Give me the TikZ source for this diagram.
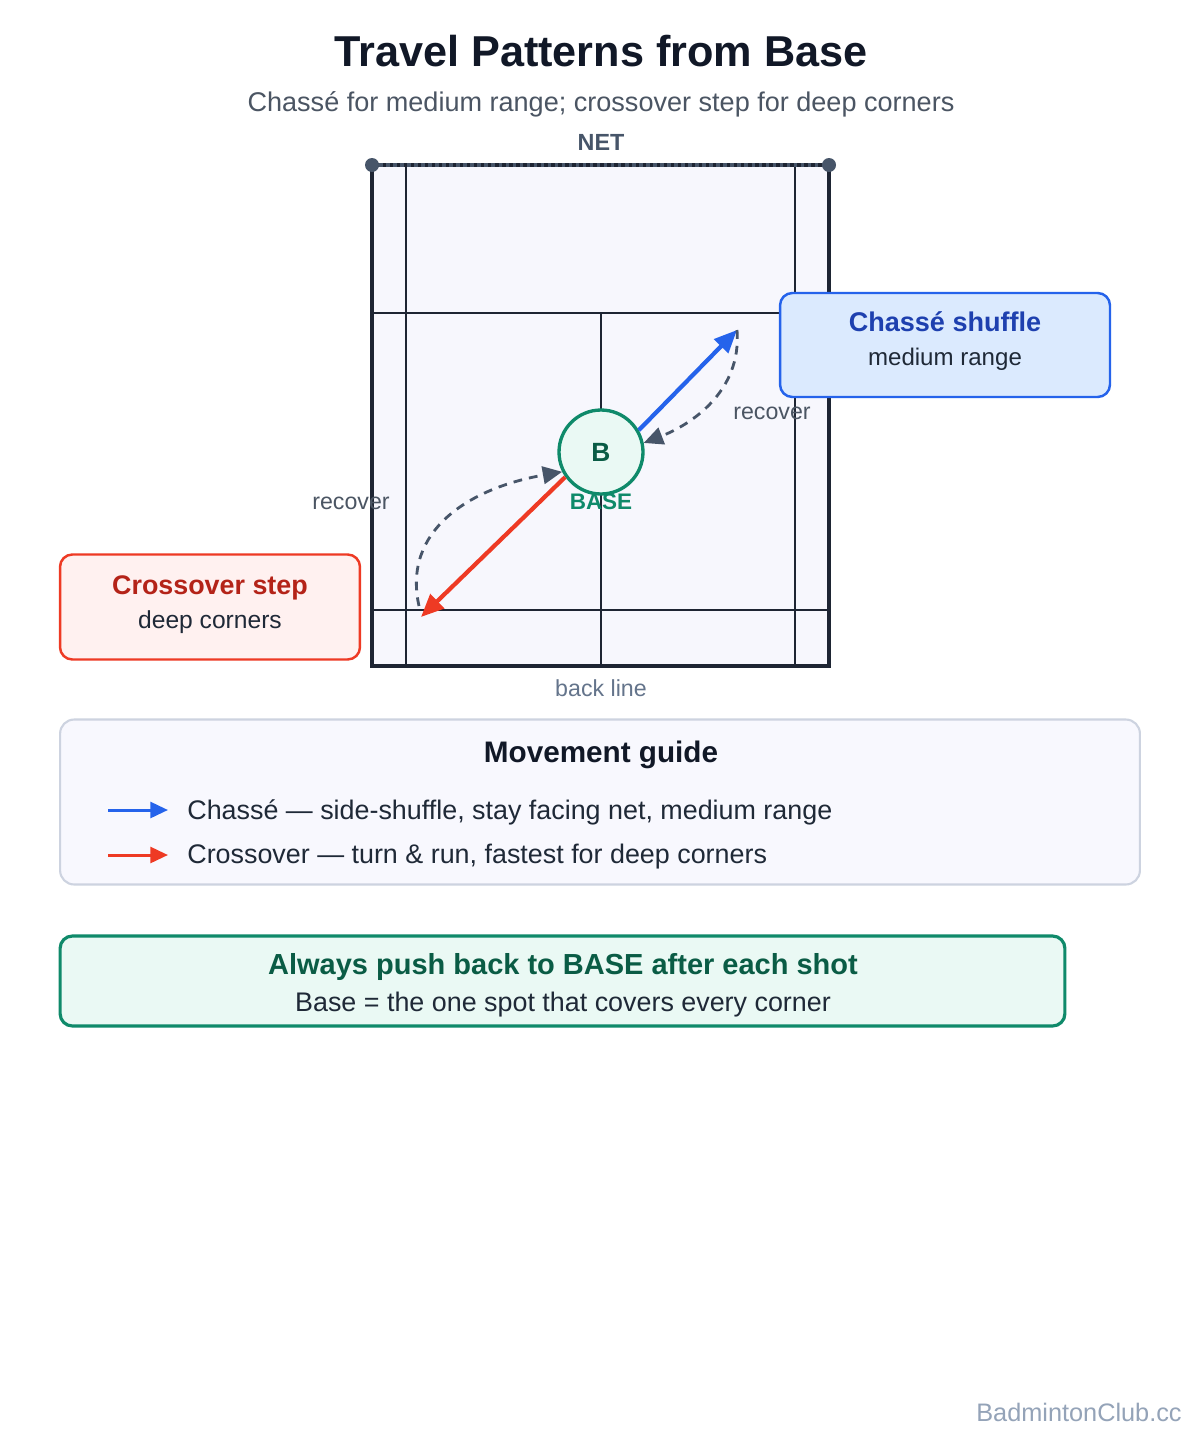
\documentclass[tikz,border=0pt]{standalone}
\usepackage{fontspec}
\setmainfont{Liberation Sans}
\usepackage{xcolor}
\usetikzlibrary{arrows.meta}

\definecolor{ink}{HTML}{111827}
\definecolor{body}{HTML}{1F2937}
\definecolor{subgrey}{HTML}{4B5563}
\definecolor{netgrey}{HTML}{475569}
\definecolor{softgrey}{HTML}{64748B}
\definecolor{footgrey}{HTML}{94A3B8}
\definecolor{courtline}{HTML}{1E2533}
\definecolor{courtfill}{HTML}{F7F7FD}
\definecolor{basegreen}{HTML}{0F8A6A}
\definecolor{deepgreen}{HTML}{0A5C45}
\definecolor{greenfill}{HTML}{EAF9F4}
\definecolor{chasseblue}{HTML}{2563EB}
\definecolor{deepblue}{HTML}{1E40AF}
\definecolor{bluefill}{HTML}{DBEAFE}
\definecolor{crossred}{HTML}{EE3A24}
\definecolor{deepred}{HTML}{B42318}
\definecolor{redfill}{HTML}{FFF1F0}
\definecolor{guidefill}{HTML}{F8F8FE}
\definecolor{guideline}{HTML}{CDD3E0}

\begin{document}
\begin{tikzpicture}[x=0.02cm,y=-0.02cm,
  court/.style={draw=courtline,line width=1.6pt},
  move/.style={line width=2.4pt,-{Triangle[length=13pt,width=11pt]}},
  recoverpath/.style={draw=netgrey,line width=1.6pt,dash pattern=on 5pt off 4pt,-{Triangle[length=11pt,width=10pt]}},
  keyarrow/.style={line width=1.7pt,-{Triangle[length=10pt,width=9pt]}},
  txt/.style={anchor=base,inner sep=0pt}]
\useasboundingbox[fill=white] (0,0) rectangle (1200,1440);
\node[txt,ink] (title) at (601,66) {\fontsize{24.6pt}{28pt}\selectfont\bfseries Travel Patterns from Base};
\node[txt,subgrey] (subtitle) at (601,111) {\fontsize{15.4pt}{18pt}\selectfont Chassé for medium range; crossover step for deep corners};

% court: outer box, singles side lines, service lines, centre line
\draw[court,fill=courtfill,line width=2.1pt](372,165) rectangle (829,666);
\draw[court](406,165)--(406,666);
\draw[court](795,165)--(795,666);
\draw[court](372,313)--(829,313);
\draw[court](372,610)--(829,610);
\draw[court](601,313)--(601,666);
\coordinate (netL) at (372,165);
\coordinate (netR) at (829,165);
\draw[courtline,line width=2.6pt](netL)--(netR);
\draw[netgrey,line width=1.8pt,dash pattern=on 2pt off 2pt](netL)--(netR);
\fill[netgrey](netL)circle(7);
\fill[netgrey](netR)circle(7);
\node[txt,netgrey] (net) at (601,150) {\fontsize{13.3pt}{15pt}\selectfont\bfseries NET};
\node[txt,softgrey] (backline) at (601,696) {\fontsize{13.2pt}{15pt}\selectfont back line};

\node[circle,draw=basegreen,fill=greenfill,line width=1.9pt,minimum size=1.68cm,inner sep=0pt,text=deepgreen] (base) at (601,452) {\fontsize{15pt}{17pt}\selectfont\bfseries B};
\node[txt,basegreen] (basetag) at (601,509) {\fontsize{12.8pt}{15pt}\selectfont\bfseries BASE};

\coordinate (chasseEnd) at (737,330);
\coordinate (crossEnd) at (421,617);
\draw[move,chasseblue](base.30)--(chasseEnd);
\draw[move,crossred](base.215)--(crossEnd);
\draw[recoverpath](chasseEnd) .. controls (742,392) and (690,425) .. (base.12);
\draw[recoverpath](419,606) .. controls (402,530) and (470,488) .. (base.207);
\node[txt,subgrey] (recoverR) at (772,419) {\fontsize{13.2pt}{15pt}\selectfont recover};
\node[txt,subgrey] (recoverL) at (351,509) {\fontsize{13.2pt}{15pt}\selectfont recover};

\node[draw=chasseblue,fill=bluefill,line width=1.4pt,rounded corners=7pt,minimum width=6.6cm,minimum height=2.08cm] (chasse) at (945,345) {};
\node[txt,deepblue] (chasseT) at (945,331) {\fontsize{15.4pt}{18pt}\selectfont\bfseries Chassé shuffle};
\node[txt,body] (chasseS) at (945,365) {\fontsize{13.7pt}{16pt}\selectfont medium range};
\node[draw=crossred,fill=redfill,line width=1.4pt,rounded corners=7pt,minimum width=6cm,minimum height=2.1cm] (cross) at (210,607) {};
\node[txt,deepred] (crossT) at (210,594) {\fontsize{15.3pt}{18pt}\selectfont\bfseries Crossover step};
\node[txt,body] (crossS) at (210,628) {\fontsize{14pt}{16pt}\selectfont deep corners};

% guide panel
\node[draw=guideline,fill=guidefill,line width=1.2pt,rounded corners=8pt,minimum width=21.6cm,minimum height=3.3cm] (guide) at (600,802) {};
\node[txt,ink] (guideT) at (601,762) {\fontsize{16.9pt}{20pt}\selectfont\bfseries Movement guide};
\coordinate (keyA1) at (108,810);
\coordinate (keyA2) at (168,810);
\coordinate (keyB1) at (108,855);
\coordinate (keyB2) at (168,855);
\draw[keyarrow,chasseblue](keyA1)--(keyA2);
\draw[keyarrow,crossred](keyB1)--(keyB2);
\node[txt,anchor=base west,body] (keyA) at (187,819) {\fontsize{15.3pt}{18pt}\selectfont Chassé — side-shuffle, stay facing net, medium range};
\node[txt,anchor=base west,body] (keyB) at (187,863) {\fontsize{15.3pt}{18pt}\selectfont Crossover — turn \& run, fastest for deep corners};

\node[draw=basegreen,fill=greenfill,line width=1.8pt,rounded corners=7pt,minimum width=20.1cm,minimum height=1.8cm] (rule) at (562.5,981) {};
\node[txt,deepgreen] (ruleT) at (563,974) {\fontsize{16.5pt}{19pt}\selectfont\bfseries Always push back to BASE after each shot};
\node[txt,body] (ruleS) at (563,1011) {\fontsize{15.3pt}{18pt}\selectfont Base = the one spot that covers every corner};

\node[txt,anchor=base east,footgrey] (footer) at (1182,1421) {\fontsize{14.4pt}{17pt}\selectfont BadmintonClub.cc};
\end{tikzpicture}
\end{document}
